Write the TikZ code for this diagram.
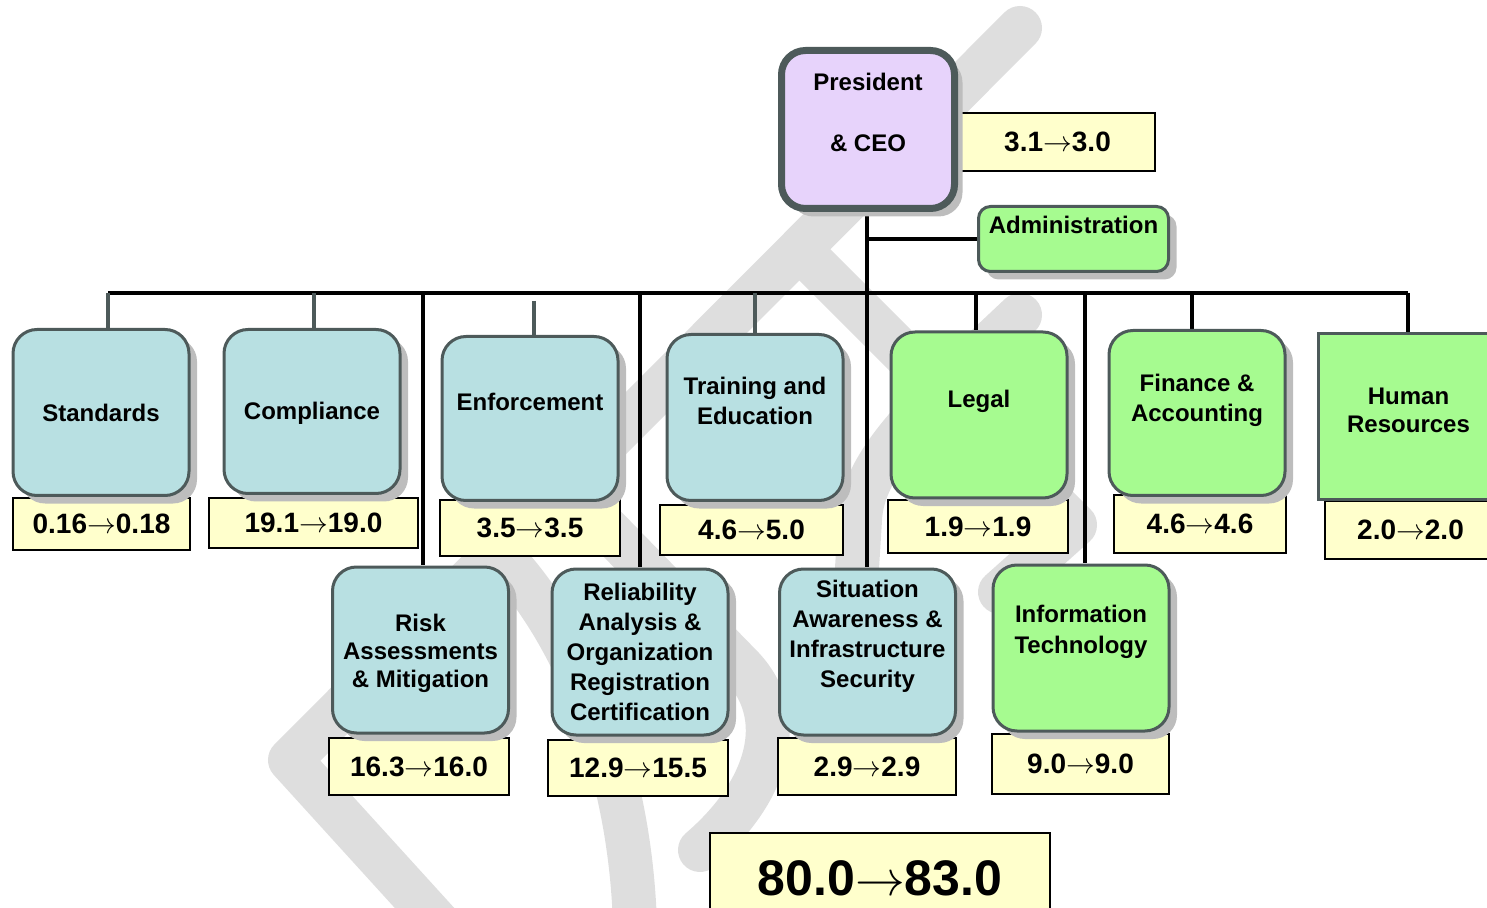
\documentclass[tikz,border=0pt]{standalone}
\usepackage{fontspec}
\setmainfont{Liberation Sans}
\usetikzlibrary{shadows}
\definecolor{bluef}{HTML}{B8E0E2}
\definecolor{greenf}{HTML}{A6FB90}
\definecolor{lavf}{HTML}{E7D3FB}
\definecolor{yellowf}{HTML}{FFFFCC}
\definecolor{edgec}{HTML}{4D5A5A}
\definecolor{shadowc}{HTML}{BDBDBD}
\definecolor{markc}{HTML}{DEDEDE}
\newcommand{\rarr}{\(\rightarrow\)}
\begin{document}
\begin{tikzpicture}[x=0.5pt,y=-0.5pt,
  rbox/.style={draw=edgec, line width=1.5pt, rounded corners=12pt, inner sep=0pt,
     drop shadow={shadow xshift=4pt, shadow yshift=-4pt, fill=shadowc, opacity=1}},
  bluebox/.style={rbox, fill=bluef, minimum width=88pt, minimum height=83pt},
  greenbox/.style={rbox, fill=greenf, minimum width=88pt, minimum height=83pt},
  val/.style={draw=black, line width=0.9pt, fill=yellowf, inner sep=0pt,
     minimum width=89pt, minimum height=27pt, font=\fontsize{14}{16}\selectfont\bfseries},
  txt/.style={font=\fontsize{12}{15}\selectfont\bfseries, align=center, inner sep=0pt},
  conn/.style={draw=black, line width=1.6pt},
  gconn/.style={draw=edgec, line width=1.6pt},
  wmark/.style={draw=markc, line width=22pt, line cap=round, line join=round}
]
\useasboundingbox (0,0) rectangle (1487,908);

% watermark
\draw[wmark] (1020,28) -- (290,760) -- (440,925);
\draw[wmark] (505,560) .. controls (570,630) and (630,760) .. (635,925);
\draw[wmark] (800,250) -- (1075,525) -- (1000,592);
\draw[wmark] (1020,315) .. controls (930,400) and (862,460) .. (860,520) -- (855,600);
\draw[wmark] (540,460) -- (740,665) .. controls (790,715) and (770,790) .. (700,850);

% connector coordinates on the bus
\coordinate (bL) at (108,293);
\coordinate (bR) at (1408,293);
\coordinate (c2) at (314,293);
\coordinate (c3) at (534,301);
\coordinate (c4) at (755,293);
\coordinate (c5) at (976,293);
\coordinate (c6) at (1192,293);
\coordinate (d1) at (423,293);
\coordinate (d2) at (640,293);
\coordinate (d4) at (1085,293);

% value boxes
\node[val, minimum width=97.5pt, minimum height=29pt] (pv) at (1057.5,142) {3.1\rarr3.0};
\node[val, minimum width=88.5pt, minimum height=26pt] (stdv) at (101.5,524) {0.16\rarr0.18};
\node[val, minimum width=104.5pt, minimum height=25pt] (compv) at (313.5,523) {19.1\rarr19.0};
\node[val, minimum width=90pt, minimum height=28pt] (enfv) at (530,528) {3.5\rarr3.5};
\node[val, minimum width=91.5pt, minimum height=25pt] (trnv) at (751.5,530) {4.6\rarr5.0};
\node[val, minimum width=90pt, minimum height=26.5pt] (legv) at (978,526.5) {1.9\rarr1.9};
\node[val, minimum width=86pt, minimum height=29pt] (finv) at (1200,524) {4.6\rarr4.6};
\node[val, minimum width=87.5pt, minimum height=29pt] (hrv) at (1412.5,530) {\hspace*{-2pt}2.0\rarr2.0};
\node[val, minimum width=90pt, minimum height=28.5pt] (riskv) at (419,766.5) {16.3\rarr16.0};
\node[val, minimum width=90pt, minimum height=28pt] (relv) at (638,768) {12.9\rarr15.5};
\node[val, minimum width=89pt, minimum height=28.5pt] (sitv) at (867,766.5) {2.9\rarr2.9};
\node[val, minimum width=88.5pt, minimum height=30pt] (itv) at (1080.5,764) {9.0\rarr9.0};
\node[val, minimum width=170pt, minimum height=48pt, font=\fontsize{25}{28}\selectfont\bfseries, text depth=0pt] (tot) at (880,881) {\raisebox{3pt}{80.0\rarr83.0}};

% connectors
\draw[conn, line width=2pt] (bL) -- (bR);
\draw[gconn] (bL) -- (bL |- 0,328);
\draw[gconn] (c2) -- (c2 |- 0,328);
\draw[gconn] (c3) -- (c3 |- 0,335);
\draw[gconn] (c4) -- (c4 |- 0,333);
\draw[conn] (c5) -- (c5 |- 0,330);
\draw[conn] (c6) -- (c6 |- 0,329);
\draw[conn] (bR) -- (bR |- 0,332);
\draw[conn] (d1) -- (d1 |- 0,565);
\draw[conn] (d2) -- (d2 |- 0,567);
\draw[conn] (d4) -- (d4 |- 0,563);
\draw[conn] (867,212) -- (867,567);
\draw[conn] (867,239) -- (977,239);

% boxes
\node[rbox, fill=lavf, line width=3.5pt, minimum width=86.5pt, minimum height=79pt] (pres) at (868,129.5) {};
\node[rbox, fill=greenf, rounded corners=6pt, minimum width=95pt, minimum height=32.5pt] (adm) at (1073.5,239) {};
\node[bluebox] (std) at (101,412.5) {};
\node[bluebox, minimum height=82pt] (comp) at (312,411.5) {};
\node[bluebox, minimum height=82pt] (enf) at (530,418.5) {};
\node[bluebox] (trn) at (755,417.5) {};
\node[greenbox] (leg) at (979,415) {};
\node[greenbox, minimum height=82.5pt] (fin) at (1197,413) {};
\node[draw=edgec, line width=1.5pt, fill=greenf, minimum width=90pt, minimum height=83pt, inner sep=0pt] (hr) at (1408.5,416.5) {};
\node[bluebox] (risk) at (420.5,650) {};
\node[bluebox] (rel) at (640,652) {};
\node[bluebox] (sit) at (867.5,652) {};
\node[greenbox] (it) at (1081,648) {};

% texts
\node[txt] at ([yshift=23.75pt]pres.center) {President};
\node[txt] at ([yshift=-6.75pt]pres.center) {\& CEO};
\node[txt] at ([yshift=7pt]adm.center) {Administration};
\node[txt] at (std.center) {Standards};
\node[txt] at ([yshift=-0.75pt]comp.center) {Compliance};
\node[txt] at ([yshift=8.25pt]enf.center) {Enforcement};
\node[txt] at ([yshift=8.25pt]trn.center) {Training and\\Education};
\node[txt] at ([yshift=7pt]leg.center) {Legal};
\node[txt] at ([yshift=6.5pt]fin.center) {Finance \&\\Accounting};
\node[txt, font=\fontsize{12}{14}\selectfont\bfseries] at ([yshift=3.25pt]hr.center) {Human\\Resources};
\node[txt, font=\fontsize{12}{14}\selectfont\bfseries] at ([yshift=-1.5pt]risk.center) {Risk\\Assessments\\\& Mitigation};
\node[txt] at (rel.center) {Reliability\\Analysis \&\\Organization\\Registration\\Certification};
\node[txt] at ([yshift=7.75pt]sit.center) {Situation\\Awareness \&\\Infrastructure\\Security};
\node[txt, font=\fontsize{12}{15.5}\selectfont\bfseries] at ([yshift=8.25pt]it.center) {Information\\Technology};
\end{tikzpicture}
\end{document}
